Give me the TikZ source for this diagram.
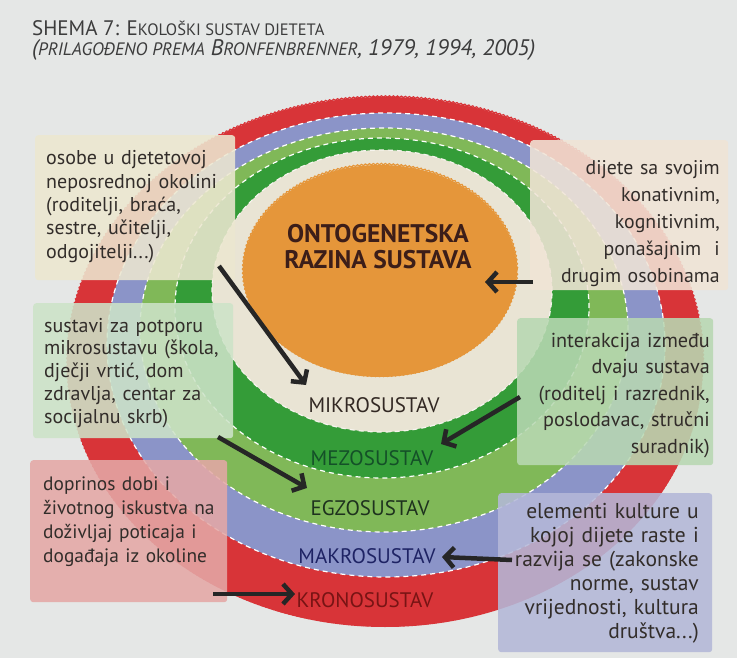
\documentclass[tikz,border=0pt]{standalone}
\usepackage{fontspec}
\setmainfont{PT Sans}
\usetikzlibrary{arrows.meta,decorations.pathmorphing}
\definecolor{bg}{RGB}{229,231,230}
\definecolor{cred}{RGB}{216,52,56}
\definecolor{cpurple}{RGB}{139,148,200}
\definecolor{clgreen}{RGB}{128,184,88}
\definecolor{cgreen}{RGB}{52,156,56}
\definecolor{ccream}{RGB}{233,228,212}
\definecolor{corange}{RGB}{229,150,58}
\definecolor{btl}{RGB}{236,231,208}
\definecolor{btr}{RGB}{240,228,214}
\definecolor{bml}{RGB}{205,227,200}
\definecolor{bmr}{RGB}{184,216,178}
\definecolor{bbl}{RGB}{228,168,166}
\definecolor{bbr}{RGB}{180,184,216}
\definecolor{txt}{RGB}{50,45,42}
\definecolor{ttl}{RGB}{60,60,60}
\definecolor{lmikro}{RGB}{50,40,35}
\definecolor{lmezo}{RGB}{20,80,40}
\definecolor{legzo}{RGB}{30,50,30}
\definecolor{lmakro}{RGB}{30,35,100}
\definecolor{lkrono}{RGB}{120,20,20}
\definecolor{lonto}{RGB}{60,30,25}
\begin{document}
\begin{tikzpicture}[x=1pt,y=-1pt,
  ringline/.style={draw=white, dash pattern=on 5pt off 4pt, line width=1.2pt},
  wavy/.style={decorate, decoration={snake, amplitude=0.7pt, segment length=4pt}, line width=1.2pt},
  infobox/.style={fill opacity=0.88, draw=none, inner sep=0pt, rounded corners=3pt, anchor=north west},
  boxtext/.style={text=txt, inner sep=0pt, text width=200pt},
  lab/.style={font=\fontsize{21}{23}\selectfont, inner sep=0pt, anchor=base},
  arr/.style={line width=4.5pt, color=black!85, -{Straight Barb[length=9pt,width=20pt]}}
]
\fill[bg] (0,0) rectangle (737,658);
\useasboundingbox (0,0) rectangle (737,658);
% title
\node[anchor=base west, inner sep=0pt, text=ttl, font=\fontsize{21}{23}\selectfont] (title1) at (32,36)
  {SHEMA 7: E{\fontsize{16.5}{18}\selectfont KOLOŠKI SUSTAV DJETETA}};
\node[anchor=base west, inner sep=0pt, text=ttl, font=\fontsize{22.5}{24}\selectfont\itshape] (title2) at (32,56)
  {({\fontsize{18}{19}\selectfont PRILAGOĐENO PREMA} B{\fontsize{18}{19}\selectfont RONFENBRENNER}, 1979, 1994, 2005)};
% rings
\fill[cred] (385,362) ellipse [x radius=318pt, y radius=265pt];
\draw[cred, wavy] (385,362) ellipse [x radius=318pt, y radius=265pt];
\fill[cpurple] (386,345) ellipse [x radius=279pt, y radius=232pt];
\fill[clgreen] (384,330) ellipse [x radius=244pt, y radius=202pt];
\fill[cgreen] (382,308) ellipse [x radius=207pt, y radius=170pt];
\fill[ccream] (382,291) ellipse [x radius=170pt, y radius=141pt];
\fill[corange] (380,271) ellipse [x radius=137pt, y radius=106pt];
\draw[corange, wavy] (380,271) ellipse [x radius=137pt, y radius=106pt];
\draw[ringline] (386,345) ellipse [x radius=279pt, y radius=232pt];
\draw[ringline] (384,330) ellipse [x radius=244pt, y radius=202pt];
\draw[ringline] (382,308) ellipse [x radius=207pt, y radius=170pt];
\draw[ringline, draw=white!60!ccream] (382,291) ellipse [x radius=170pt, y radius=141pt];
% ring labels
\node[lab, text=lmikro] (mikro) at (374,412) {MIKROSUSTAV};
\node[lab, text=lmezo] (mezo) at (372,465) {MEZOSUSTAV};
\node[lab, text=legzo] (egzo) at (370,515) {EGZOSUSTAV};
\node[lab, text=lmakro] (makro) at (367,563) {MAKROSUSTAV};
\node[lab, text=lkrono] (krono) at (365,607) {KRONOSUSTAV};
\node[inner sep=0pt, anchor=base, align=center, text=lonto, font=\fontsize{25.5}{25.5}\selectfont\bfseries] (onto) at (378,268)
  {ONTOGENETSKA\\RAZINA SUSTAVA};
% boxes
\node[infobox, fill=btl, minimum width=200pt, minimum height=145pt] (tlbox) at (35,135) {};
\node[infobox, fill=btr, minimum width=198pt, minimum height=150pt] (trbox) at (530,140) {};
\node[infobox, fill=bml, minimum width=200pt, minimum height=135pt] (mlbox) at (33,303) {};
\node[infobox, fill=bmr, minimum width=196pt, minimum height=147pt] (mrbox) at (517,318) {};
\node[infobox, fill=bbl, minimum width=197pt, minimum height=142pt] (blbox) at (30,460) {};
\node[infobox, fill=bbr, minimum width=214pt, minimum height=159pt] (brbox) at (498,493) {};
% box texts
\node[boxtext, align=left, anchor=base west, font=\fontsize{20}{23.3}\selectfont] (tltext) at (46,165)
  {osobe u djetetovoj\\neposrednoj okolini\\(roditelji, braća,\\sestre, učitelji,\\odgojitelji...)};
\node[boxtext, align=right, anchor=base east, font=\fontsize{19.8}{26.8}\selectfont] (trtext) at (720,175)
  {dijete sa svojim\\konativnim,\\kognitivnim,\\ponašajnim\ \ i\\drugim osobinama};
\node[boxtext, align=left, anchor=base west, font=\fontsize{20}{22.8}\selectfont] (mltext) at (44,332)
  {sustavi za potporu\\mikrosustavu (škola,\\dječji vrtić, dom\\zdravlja, centar za\\socijalnu skrb)};
\node[boxtext, align=right, anchor=base east, font=\fontsize{20.2}{26.5}\selectfont] (mrtext) at (710,347)
  {interakcija između\\dvaju sustava\\(roditelj i razrednik,\\poslodavac, stručni\\suradnik)};
\node[boxtext, align=left, anchor=base west, font=\fontsize{19.4}{24}\selectfont] (bltext) at (43,490)
  {doprinos dobi i\\životnog iskustva na\\doživljaj poticaja i\\događaja iz okoline};
\node[boxtext, align=right, anchor=base east, font=\fontsize{21.5}{24}\selectfont] (brtext) at (699,518)
  {elementi kulture u\\kojoj dijete raste i\\razvija se (zakonske\\norme, sustav\\vrijednosti, kultura\\društva...)};
% arrows
\coordinate (a1s) at (219,266); \coordinate (a1e) at (306,385);
\coordinate (a2s) at (533,282); \coordinate (a2e) at (485,282);
\coordinate (a3s) at (218,437); \coordinate (a3e) at (307,488);
\coordinate (a4s) at (520,397); \coordinate (a4e) at (441,444);
\coordinate (a5s) at (512,560); \coordinate (a5e) at (442,557);
\coordinate (a6s) at (213,594); \coordinate (a6e) at (295,594);
\draw[arr] (a1s) -- (a1e);
\draw[arr] (a2s) -- (a2e);
\draw[arr] (a3s) -- (a3e);
\draw[arr] (a4s) -- (a4e);
\draw[arr] (a5s) -- (a5e);
\draw[arr] (a6s) -- (a6e);
\end{tikzpicture}
\end{document}
